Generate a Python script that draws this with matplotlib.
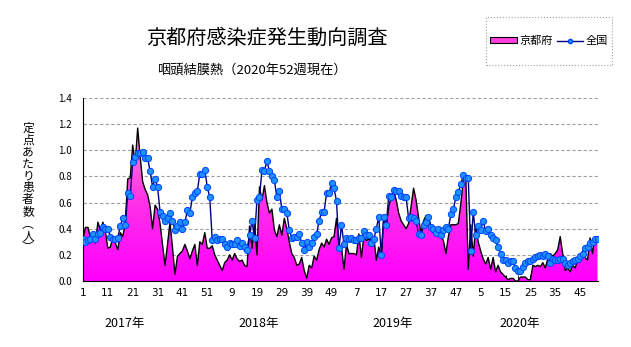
import numpy as np
import matplotlib.pyplot as plt
from matplotlib.colors import LinearSegmentedColormap
from matplotlib.lines import Line2D
from matplotlib.patches import Patch, Polygon, Rectangle

plt.rcParams['font.family'] = ['Noto Sans CJK JP', 'DejaVu Sans']

# 定点あたり患者数 (週ごと, 2017年1週 ～ 2020年52週)
kyoto_2017 = [0.33, 0.41, 0.41, 0.33, 0.35, 0.29, 0.45, 0.39, 0.45, 0.38,
              0.25, 0.26, 0.33, 0.29, 0.24, 0.37, 0.34, 0.44, 0.78, 0.79,
              1.04, 0.90, 1.17, 0.95, 0.76, 0.70, 0.66, 0.57, 0.40, 0.58,
              0.55, 0.44, 0.28, 0.12, 0.28, 0.45, 0.26, 0.05, 0.19, 0.21,
              0.23, 0.28, 0.23, 0.17, 0.23, 0.28, 0.12, 0.30, 0.28, 0.37,
              0.25, 0.25]
kyoto_2018 = [0.27, 0.20, 0.16, 0.12, 0.08, 0.14, 0.16, 0.20, 0.16, 0.21,
              0.17, 0.15, 0.16, 0.12, 0.11, 0.42, 0.25, 0.45, 0.20, 0.72,
              0.62, 0.73, 0.60, 0.52, 0.55, 0.39, 0.34, 0.43, 0.35, 0.48,
              0.40, 0.30, 0.21, 0.18, 0.12, 0.13, 0.18, 0.08, 0.02, 0.12,
              0.10, 0.19, 0.16, 0.24, 0.29, 0.26, 0.32, 0.28, 0.33, 0.34,
              0.48, 0.28]
kyoto_2019 = [0.26, 0.09, 0.28, 0.21, 0.21, 0.21, 0.20, 0.36, 0.18, 0.34,
              0.31, 0.32, 0.30, 0.34, 0.16, 0.26, 0.18, 0.49, 0.41, 0.57,
              0.64, 0.69, 0.62, 0.52, 0.46, 0.43, 0.40, 0.44, 0.57, 0.71,
              0.62, 0.49, 0.36, 0.46, 0.50, 0.49, 0.41, 0.39, 0.39, 0.36,
              0.34, 0.31, 0.21, 0.34, 0.43, 0.43, 0.43, 0.44, 0.59, 0.77,
              0.80, 0.09]
kyoto_2020 = [0.43, 0.19, 0.42, 0.30, 0.23, 0.17, 0.13, 0.18, 0.09, 0.18,
              0.07, 0.12, 0.07, 0.05, 0.03, 0.01, 0.02, 0.02, 0.00, 0.00,
              0.03, 0.03, 0.03, 0.01, 0.01, 0.12, 0.11, 0.12, 0.11, 0.14,
              0.10, 0.17, 0.21, 0.19, 0.21, 0.24, 0.34, 0.21, 0.08, 0.10,
              0.07, 0.12, 0.10, 0.16, 0.16, 0.23, 0.18, 0.16, 0.33, 0.21,
              0.34, 0.30]

zenkoku_2017 = [0.32, 0.30, 0.31, 0.32, 0.36, 0.32, 0.36, 0.37, 0.41, 0.40,
                0.40, 0.34, 0.32, 0.32, 0.33, 0.42, 0.48, 0.43, 0.67, 0.65,
                0.91, 0.95, 0.98, 0.98, 0.99, 0.94, 0.94, 0.84, 0.72, 0.78,
                0.72, 0.53, 0.50, 0.46, 0.48, 0.52, 0.46, 0.39, 0.42, 0.45,
                0.40, 0.45, 0.54, 0.52, 0.64, 0.67, 0.69, 0.82, 0.82, 0.85,
                0.72, 0.64]
zenkoku_2018 = [0.31, 0.34, 0.31, 0.32, 0.32, 0.28, 0.26, 0.29, 0.28, 0.28,
                0.31, 0.27, 0.29, 0.26, 0.24, 0.35, 0.46, 0.33, 0.62, 0.64,
                0.85, 0.84, 0.92, 0.84, 0.80, 0.77, 0.64, 0.69, 0.55, 0.55,
                0.52, 0.39, 0.33, 0.34, 0.34, 0.36, 0.29, 0.24, 0.30, 0.26,
                0.29, 0.34, 0.36, 0.46, 0.53, 0.53, 0.67, 0.67, 0.75, 0.71,
                0.61, 0.25]
zenkoku_2019 = [0.43, 0.28, 0.33, 0.32, 0.33, 0.31, 0.31, 0.33, 0.33, 0.38,
                0.35, 0.35, 0.29, 0.32, 0.40, 0.49, 0.20, 0.49, 0.43, 0.65,
                0.64, 0.70, 0.69, 0.69, 0.65, 0.64, 0.64, 0.48, 0.49, 0.48,
                0.46, 0.36, 0.35, 0.43, 0.45, 0.49, 0.41, 0.40, 0.37, 0.40,
                0.35, 0.39, 0.41, 0.40, 0.51, 0.55, 0.64, 0.68, 0.74, 0.81,
                0.79, 0.79]
zenkoku_2020 = [0.23, 0.53, 0.35, 0.42, 0.39, 0.46, 0.38, 0.40, 0.35, 0.33,
                0.31, 0.26, 0.21, 0.16, 0.16, 0.14, 0.15, 0.15, 0.10, 0.08,
                0.08, 0.11, 0.14, 0.15, 0.15, 0.17, 0.18, 0.19, 0.20, 0.19,
                0.21, 0.19, 0.14, 0.17, 0.16, 0.16, 0.17, 0.17, 0.14, 0.12,
                0.14, 0.15, 0.16, 0.17, 0.19, 0.21, 0.25, 0.26, 0.29, 0.30,
                0.32, 0.32]

week_labels = ['1', '11', '21', '31', '41', '51', '9', '19', '29', '39', '49',
               '7', '17', '27', '37', '47', '5', '15', '25', '35', '45']
years = ['2017年', '2018年', '2019年', '2020年']

kyoto = np.array(kyoto_2017 + kyoto_2018 + kyoto_2019 + kyoto_2020)
zenkoku = np.array(zenkoku_2017 + zenkoku_2018 + zenkoku_2019 + zenkoku_2020)
weeks = np.arange(len(kyoto))

W, H = 631, 347
fig = plt.figure(figsize=(W / 100, H / 100), dpi=100)
ax = fig.add_axes([83 / W, 66 / H, 515 / W, 183 / H])

# 京都府: グラデーション塗り
verts = np.column_stack([np.r_[weeks[0], weeks, weeks[-1]], np.r_[0, kyoto, 0]])
poly = Polygon(verts, closed=True, facecolor='none', edgecolor='none')
ax.add_patch(poly)
cmap = LinearSegmentedColormap.from_list('pk', ['#ff00ff', '#ff30e8', '#ff90cc'])
grad = np.linspace(0, 1, 256).reshape(-1, 1)
img = ax.imshow(grad, aspect='auto', cmap=cmap, origin='lower',
                extent=[weeks[0], weeks[-1], 0, 1.2], zorder=2)
img.set_clip_path(poly)
ax.plot(weeks, kyoto, color='black', lw=1.0, zorder=3)

# 全国
ax.plot(weeks, zenkoku, color='#000080', lw=1.0, marker='o', ms=4.5,
        mfc='#1e90ff', mec='#0044ff', mew=0.7, zorder=4)

ax.set_xlim(0, len(weeks) - 0.8)
ax.set_ylim(0, 1.4)
ax.set_yticks(np.arange(0, 1.41, 0.2))
ax.set_yticklabels(['%.1f' % v for v in np.arange(0, 1.41, 0.2)], fontsize=7)
ax.yaxis.grid(True, linestyle=(0, (3, 2)), color='#a0a0a0', lw=0.8, zorder=0)
ax.set_axisbelow(True)
ax.set_xticks(np.arange(0, len(weeks), 10))
ax.set_xticklabels(week_labels, fontsize=7.5, family='DejaVu Sans')
ax.set_xticks(np.arange(5, len(weeks), 10), minor=True)
ax.tick_params(axis='x', which='both', direction='in', length=4, pad=5)
ax.tick_params(axis='y', direction='in', length=0, pad=8)
for s in ['top', 'right']:
    ax.spines[s].set_visible(False)

for yr, x in zip(years, [125, 259, 393, 520]):
    fig.text(x / W, 1 - 323 / H, yr, fontsize=9, ha='center', va='center')

ylab = ['定', '点', 'あ', 'た', 'り', '患', '者', '数', '︵', '人', '︶']
for k, ch in enumerate(ylab):
    fig.text(28 / W, 1 - (128 + 12 * k) / H, ch, fontsize=8.5,
             ha='center', va='center')

fig.text(267 / W, 1 - 38 / H, '京都府感染症発生動向調査', fontsize=14.5,
         ha='center', va='center')
fig.text(252 / W, 1 - 70 / H, '咽頭結膜熱（2020年52週現在）', fontsize=9.5,
         ha='center', va='center')

# 凡例
fig.patches.append(Rectangle((486 / W, 1 - 65 / H), 126 / W, 48 / H,
                             transform=fig.transFigure, facecolor='white',
                             edgecolor='#a0a0a0', lw=0.8, linestyle=':'))
handles = [Patch(facecolor='#ff40e0', edgecolor='black', lw=0.8),
           Line2D([], [], color='#000080', lw=1.0, marker='o', ms=3,
                  mfc='#1e90ff', mec='#0044ff')]
fig.legend(handles, ['京都府', '全国'], loc='center', ncol=2,
           bbox_to_anchor=(549 / W, 1 - 41 / H), frameon=False, fontsize=8,
           handlelength=2.4, handleheight=0.5, handletextpad=0.2,
           columnspacing=0.4, borderpad=0)

fig.savefig('out.png', dpi=100)
